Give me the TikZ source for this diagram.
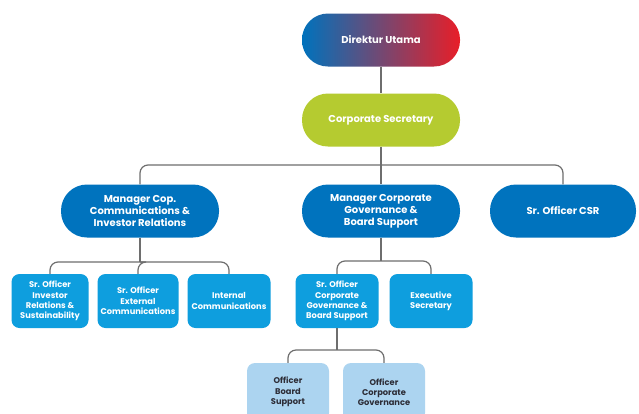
\documentclass[tikz,border=0pt]{standalone}
\usepackage{fontspec}
\setmainfont{Poppins}
\usetikzlibrary{positioning}
\definecolor{dirblue}{RGB}{0,114,188}
\definecolor{dirred}{RGB}{232,30,40}
\definecolor{secgreen}{RGB}{181,203,48}
\definecolor{mgrblue}{RGB}{0,115,190}
\definecolor{offblue}{RGB}{14,158,222}
\definecolor{lightblue}{RGB}{172,212,240}
\definecolor{linegray}{RGB}{110,110,110}
\definecolor{darktext}{RGB}{45,45,55}

\begin{document}
\begin{tikzpicture}[x=1pt,y=-1pt]
\tikzstyle{every node}+=[align=center, inner sep=0pt]
\tikzstyle{pill}=[rounded corners=26pt, minimum width=158pt, minimum height=53pt, text=white, font=\fontsize{10}{12}\selectfont\bfseries]
\tikzstyle{box}=[rounded corners=8pt, minimum width=81pt, minimum height=54pt, fill=offblue, text=white, font=\fontsize{8.3}{10.3}\selectfont\bfseries]
\tikzstyle{link}=[draw=linegray, line width=1.2pt, rounded corners=8pt]
\useasboundingbox [fill=white] (0,0) rectangle (639,413);
\node [pill, left color=dirblue, right color=dirred] (dirut) at (381,40) {Direktur Utama};
\node [pill, fill=secgreen] (corsec) at (381,120) {Corporate Secretary};
\node [pill, fill=mgrblue] (mgrcom) at (140,211) {Manager Cop.\\Communications \&\\Investor Relations};
\node [pill, fill=mgrblue] (mgrgov) at (381,211) {Manager Corporate\\Governance \&\\Board Support};
\node [pill, fill=mgrblue, minimum width=146pt] (csr) at (563,211) {Sr. Officer CSR};
\node [box, minimum width=77pt] (soir) at (50,301) {Sr. Officer\\Investor\\Relations \&\\Sustainability};
\node [box] (soec) at (138,301) {Sr. Officer\\External\\Communications};
\node [box, minimum width=83pt] (intcom) at (229,301) {Internal\\Communications};
\node [box, minimum width=83pt] (socg) at (337,301) {Sr. Officer\\Corporate\\Governance \&\\Board Support};
\node [box, minimum width=83pt] (exsec) at (431,301) {Executive\\Secretary};
\node [box, fill=lightblue, text=darktext, minimum width=82pt, minimum height=58pt] (obs) at (288,392) {Officer\\Board\\Support};
\node [box, fill=lightblue, text=darktext, minimum width=82pt, minimum height=58pt] (ocg) at (384,392) {Officer\\Corporate\\Governance};
\coordinate (bus1) at (381,165);
\coordinate (bus2) at (140,262);
\coordinate (bus3) at (381,261);
\coordinate (bus4) at (337,350);
\draw [link] (dirut) -- (corsec);
\draw [link] (corsec.south) -- (bus1);
\draw [link] (mgrcom.north) |- (bus1) -| (csr.north);
\draw [link] (bus1) -- (mgrgov.north);
\draw [link] (mgrcom.south) -- (bus2);
\draw [link] (soir.north) |- (bus2) -| (intcom.north);
\draw [link] (bus2) -- (bus2 -| soec.north) -- (soec.north);
\draw [link] (mgrgov.south) -- (bus3);
\draw [link] (socg.north) |- (bus3) -| (exsec.north);
\draw [link] (socg.south) -- (bus4);
\draw [link] (obs.north) |- (bus4) -| (ocg.north);
\end{tikzpicture}
\end{document}
